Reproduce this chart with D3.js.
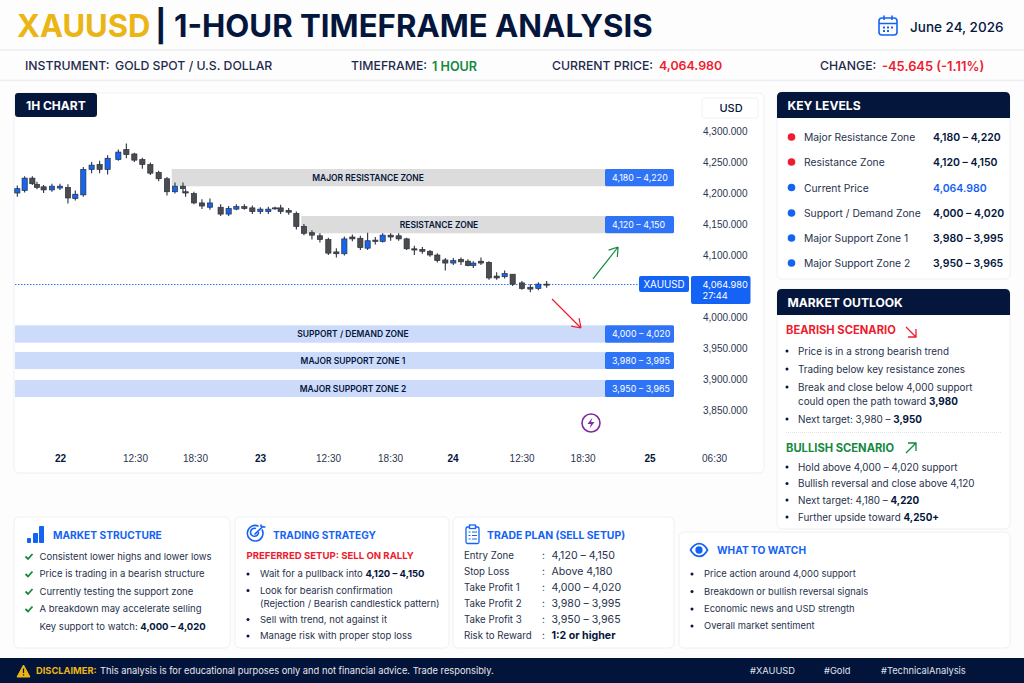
<!DOCTYPE html>
<html>
<head>
<meta charset="utf-8">
<title>XAUUSD 1-Hour Timeframe Analysis</title>
<script src="https://cdn.jsdelivr.net/npm/d3@7"></script>
<style>
  html, body { margin: 0; padding: 0; background: #fdfdfe; }
  svg { display: block; font-family: Inter, "Noto Sans", sans-serif; }
</style>
</head>
<body>
<svg id="page" width="1024" height="683"></svg>
<script>
// Candles: slot on the x axis and prices
const slots = [0,.92,1.88,2.46,3.29,4.33,5.33,6.33,7.25,8.25,9.29,10.29,11.29,12.63,13.63,14.63,15.63,16.63,17.67,18.71,19.71,20.71,21.04,22.08,23.08,24.08,25.42,26.42,27.38,28.38,29.38,30.38,31.38,32.21,32.92,33.92,34.88,35.83,36.83,37.83,38.88,39.88,40.88,41.88,42.88,43.79,44.75,45.67,46.67,47.67,48.67,49.63,50.63,51.58,52.5,53.5,54.5,55.46,56.33,57,57.96,58.96,59.92,60.92,61.92,63.08,64.13,65.13,66.17];
const opens = [4200,4204,4224,4214,4210,4205,4208,4209,4191,4197,4238,4246,4238,4254,4270,4263,4254,4246,4233,4223,4202,4211,4202,4199,4184,4177,4177,4166,4174,4178,4176,4170,4170,4175,4176,4172,4167,4146,4136,4131,4125,4105,4102,4129,4127,4111,4124,4122,4132,4131,4126,4110,4109,4106,4100,4092,4087,4093,4090,4083,4090,4088,4066,4065,4069,4055,4048,4046,4053];
const highs = [4212,4227,4227,4218,4213,4215,4215,4214,4204,4242,4250,4252,4261,4270,4280,4265,4257,4249,4236,4226,4217,4217,4206,4202,4190,4191,4182,4179,4182,4182,4180,4177,4178,4178,4181,4176,4170,4150,4140,4135,4128,4111,4130,4133,4131,4136,4129,4135,4135,4135,4128,4115,4113,4108,4103,4095,4095,4096,4093,4090,4096,4090,4072,4075,4069,4058,4053,4056,4058];
const lows = [4194,4201,4213,4206,4200,4202,4205,4183,4188,4194,4232,4232,4230,4252,4256,4250,4239,4229,4219,4196,4199,4200,4194,4182,4174,4173,4163,4163,4172,4173,4166,4166,4166,4173,4166,4165,4141,4132,4125,4120,4100,4096,4099,4122,4108,4108,4117,4120,4123,4123,4108,4100,4102,4097,4088,4075,4084,4084,4082,4079,4084,4060,4060,4062,4050,4044,4040,4043,4047];
const closes = [4207,4224,4215,4209,4205,4211,4211,4192,4198,4238,4245,4238,4256,4266,4262,4253,4246,4232,4223,4202,4211,4207,4200,4184,4179,4184,4166,4175,4178,4175,4170,4174,4174,4176,4170,4169,4146,4135,4132,4125,4103,4102,4126,4126,4112,4123,4122,4132,4129,4126,4110,4108,4106,4100,4091,4087,4091,4089,4083,4087,4087,4063,4063,4070,4053,4046,4045,4053,4052];

// Price axis
const priceTicks = [4300,4250,4200,4150,4100,4000,3950,3900,3850];

// Time axis
const timeSlots = [5.34,14.71,22.21,30.34,38.84,46.59,54.41,63.04,70.66,79.04,87.09];
const timeLabels = ["22","12:30","18:30","23","12:30","18:30","24","12:30","18:30","25","06:30"];

// Zones: where each band sits on the price scale, and the range it is labelled with
const zoneNames = ["MAJOR RESISTANCE ZONE","RESISTANCE ZONE","SUPPORT / DEMAND ZONE","MAJOR SUPPORT ZONE 1","MAJOR SUPPORT ZONE 2"];
const zoneRanges = ["4,180 – 4,220","4,120 – 4,150","4,000 – 4,020","3,980 – 3,995","3,950 – 3,965"];
const zoneHighs = [4238.7,4162.9,3986.6,3943.5,3898.4];
const zoneLows = [4210.8,4135,3958.5,3916,3871];
const zoneStarts = [19.3,35.5,-0.29,-0.29,-0.29];

// Price line as drawn, and the two scenario arrows
const priceLine = 4052.4;
const upArrowSlots = [71.96,75.1], upArrowPrices = [4061.3,4112.9];
const downArrowSlots = [66.84,70.46], downArrowPrices = [4029,3982.3];

// Side panels
const keyLabels = ["Major Resistance Zone","Resistance Zone","Current Price","Support / Demand Zone","Major Support Zone 1","Major Support Zone 2"];
const keyValues = ["4,180 – 4,220","4,120 – 4,150","4,064.980","4,000 – 4,020","3,980 – 3,995","3,950 – 3,965"];

const navy = "#04163c", ink = "#27324d", blue = "#1463f5", red = "#ee1c2e", green = "#14893f", gold = "#ebb515";

const svg = d3.select("#page");

// Text helper: parts wrapped in ** are bold, y is the middle of the line
function txt(x, y, str, o = {}) {
    const t = svg.append("text")
        .attr("x", x).attr("y", y).attr("dy", ".36em")
        .attr("font-size", o.size || 9.5)
        .attr("font-weight", o.weight || 400)
        .attr("fill", o.fill || ink)
        .attr("text-anchor", o.anchor || "start");
    str.split("**").forEach((part, i) => {
        t.append("tspan").attr("font-weight", i % 2 ? 700 : null).attr("fill", i % 2 ? navy : null).text(part);
    });
    return t;
}

function card(x, y, w, h) {
    svg.append("rect").attr("x", x).attr("y", y).attr("width", w).attr("height", h)
        .attr("rx", 5).attr("fill", "#fff").attr("stroke", "#eff0f3");
}

// Card with a dark header strip
function headCard(x, y, w, h, title) {
    card(x, y, w, h);
    svg.append("path").attr("fill", navy)
        .attr("d", `M${x},${y + 26}V${y + 5}q0,-5 5,-5H${x + w - 5}q5,0 5,5V${y + 26}Z`);
    txt(x + 10.5, y + 13.5, title, { size: 12.1, weight: 700, fill: "#fff" });
}

function bullets(x, rows, size, gap = 12) {
    rows.forEach(r => {
        if (r.dot !== false) svg.append("circle").attr("cx", x).attr("cy", r.y).attr("r", 1.5).attr("fill", navy);
        txt(x + gap, r.y, r.t, { size: size });
    });
}

// ---------- Header ----------
txt(17, 26, "XAUUSD", { size: 31, weight: 700, fill: gold });
txt(155, 26, "| 1-HOUR TIMEFRAME ANALYSIS", { size: 31.2, weight: 700, fill: navy });

const cal = svg.append("g").attr("fill", "none").attr("stroke", blue).attr("stroke-width", 1.6);
cal.append("rect").attr("x", 879).attr("y", 18).attr("width", 18).attr("height", 17).attr("rx", 3);
cal.append("path").attr("d", "M879,23.5H897M884,15.5V20M892,15.5V20");
cal.append("path").attr("d", "M883,27.5h2M887,27.5h2M891,27.5h2M883,31h2M887,31h2").attr("stroke-width", 1.8);
txt(910, 27, "June 24, 2026", { size: 13.5, weight: 500, fill: navy });

svg.append("path").attr("d", "M0,50H1024M0,80.5H1024").attr("stroke", "#eceef1").attr("stroke-width", 1.5);
const hdr = { size: 12.25, weight: 500, fill: "#1d2b4c" };
txt(25, 66, "INSTRUMENT:", hdr);
txt(115, 66, "GOLD SPOT / U.S. DOLLAR", hdr);
txt(351, 66, "TIMEFRAME:", hdr);
txt(432, 66, "1 HOUR", { size: 12.6, weight: 600, fill: green });
txt(552, 66, "CURRENT PRICE:", hdr);
txt(659, 66, "4,064.980", { size: 12.4, weight: 600, fill: red });
txt(820, 66, "CHANGE:", hdr);
txt(882, 66, "-45.645 (-1.11%)", { size: 12.9, weight: 600, fill: red });

// ---------- Chart card ----------
card(14, 93, 750, 380);
svg.append("rect").attr("x", 15).attr("y", 93).attr("width", 82).attr("height", 24).attr("rx", 3).attr("fill", navy);
txt(26, 105.5, "1H CHART", { size: 12, weight: 700, fill: "#fff" });
svg.append("rect").attr("x", 702).attr("y", 98).attr("width", 56).attr("height", 20).attr("rx", 2)
    .attr("fill", "#fff").attr("stroke", "#f1f2f4");
txt(731, 108, "USD", { size: 11, weight: 500, fill: navy, anchor: "middle" });

const x = d3.scaleLinear().domain([0, 88]).range([17.3, 721.3]);
const y = d3.scaleLinear().domain([3850, 4300]).range([410, 131]);

// Zones
const zoneIdx = d3.range(zoneNames.length);
const zoneEnd = x.invert(605), zoneTagEnd = x.invert(674);
const zoneTextX = [368, 439, 353, 353, 353];

svg.append("g").selectAll("rect").data(zoneIdx).enter().append("rect")
    .attr("x", i => x(zoneStarts[i]))
    .attr("y", i => y(zoneHighs[i]))
    .attr("width", i => x(zoneEnd) - x(zoneStarts[i]))
    .attr("height", i => y(zoneLows[i]) - y(zoneHighs[i]))
    .attr("fill", i => i < 2 ? "#dcdcdd" : "#cddbfb");

svg.append("g").selectAll("rect").data(zoneIdx).enter().append("rect")
    .attr("x", x(zoneEnd))
    .attr("y", i => y(zoneHighs[i]))
    .attr("width", x(zoneTagEnd) - x(zoneEnd))
    .attr("height", i => y(zoneLows[i]) - y(zoneHighs[i]))
    .attr("rx", 1.5)
    .attr("fill", "#2f74f7");

zoneIdx.forEach(i => {
    const mid = y((zoneHighs[i] + zoneLows[i]) / 2);
    txt(zoneTextX[i], mid, zoneNames[i], { size: 8.5, weight: 600, fill: navy, anchor: "middle" });
    txt(x(zoneEnd) + 7, mid, zoneRanges[i], { size: 8.9, weight: 400, fill: "#fff" });
});

// Current price line
svg.append("line")
    .attr("x1", x(-0.29)).attr("x2", 639)
    .attr("y1", y(priceLine)).attr("y2", y(priceLine))
    .attr("stroke", blue).attr("stroke-width", 0.9).attr("stroke-dasharray", "1.5,1.5");

// Candles
const candles = svg.append("g").selectAll("g").data(slots.map((s, i) => i)).enter().append("g");
candles.append("line")
    .attr("x1", i => x(slots[i])).attr("x2", i => x(slots[i]))
    .attr("y1", i => y(highs[i])).attr("y2", i => y(lows[i]))
    .attr("stroke", "#2a3040").attr("stroke-width", 1.1);
candles.append("rect")
    .attr("x", i => x(slots[i]) - 2.6)
    .attr("width", 5.2)
    .attr("y", i => y(Math.max(opens[i], closes[i])))
    .attr("height", i => Math.max(1, Math.abs(y(opens[i]) - y(closes[i]))))
    .attr("fill", i => closes[i] > opens[i] ? "#1565ee" : "#4c4c4e")
    .attr("stroke", "#2a3040").attr("stroke-width", 0.7);

// Arrows
function arrow(xs, ys, color) {
    const x1 = x(xs[0]), y1 = y(ys[0]), x2 = x(xs[1]), y2 = y(ys[1]);
    const a = Math.atan2(y2 - y1, x2 - x1), len = 10;
    const head = [a + 2.55, a - 2.55].map(t => `M${x2 + len * Math.cos(t)},${y2 + len * Math.sin(t)}L${x2},${y2}`).join("");
    svg.append("path").attr("d", `M${x1},${y1}L${x2},${y2}${head}`)
        .attr("fill", "none").attr("stroke", color).attr("stroke-width", 1.2);
}
arrow(upArrowSlots, upArrowPrices, green);
arrow(downArrowSlots, downArrowPrices, red);

// Price tag
svg.append("rect").attr("x", 639).attr("y", 276).attr("width", 50).attr("height", 16).attr("rx", 2).attr("fill", blue);
txt(664, 284.3, "XAUUSD", { size: 9.8, fill: "#fff", anchor: "middle" });
svg.append("rect").attr("x", 691).attr("y", 276).attr("width", 59.5).attr("height", 28).attr("rx", 2).attr("fill", blue);
txt(702.5, 284.3, "4,064.980", { size: 9.3, fill: "#fff" });
txt(702.5, 296, "27:44", { size: 9.3, fill: "#fff" });

// Axes
const yAxis = svg.append("g").attr("transform", "translate(703,0)")
    .call(d3.axisRight(y).tickValues(priceTicks).tickFormat(d3.format(",.3f")).tickSize(0).tickPadding(0));
yAxis.select(".domain").remove();
yAxis.selectAll("text").attr("font-family", null).attr("font-size", 10).attr("font-weight", 500).attr("fill", "#2b3550");

const xAxis = svg.append("g").attr("transform", "translate(0,455)")
    .call(d3.axisBottom(x).tickValues(timeSlots).tickFormat((d, i) => timeLabels[i]).tickSize(0).tickPadding(0));
xAxis.select(".domain").remove();
xAxis.selectAll("text").attr("font-family", null).attr("font-size", 10)
    .attr("font-weight", (d, i) => /:/.test(timeLabels[i]) ? 500 : 700)
    .attr("fill", (d, i) => /:/.test(timeLabels[i]) ? "#2b3550" : navy);

// Lightning badge
svg.append("circle").attr("cx", 591).attr("cy", 423).attr("r", 9).attr("fill", "#fff").attr("stroke", "#7d2c9f").attr("stroke-width", 1.6);
svg.append("path").attr("d", "M592.5,417.5L587.5,424H591L589.5,428.5L594.5,422H591Z").attr("fill", "#7d2c9f");

// ---------- Key levels ----------
headCard(777, 92, 233, 187, "KEY LEVELS");
keyLabels.forEach((label, i) => {
    const ry = [137.5, 162.5, 188, 213.5, 238.5, 263.5][i];
    svg.append("circle").attr("cx", 791.5).attr("cy", ry - .5).attr("r", 3.8).attr("fill", i < 2 ? red : blue);
    txt(804, ry, label, { size: 10.3 });
    txt(933, ry, keyValues[i], { size: 10.5, weight: 600, fill: i === 2 ? blue : navy });
});

// ---------- Market outlook ----------
headCard(777, 289, 233, 240, "MARKET OUTLOOK");
txt(786, 330, "BEARISH SCENARIO", { size: 11.2, weight: 700, fill: red });
svg.append("path").attr("d", "M906,327L916,337M916,329V337H908").attr("fill", "none").attr("stroke", red).attr("stroke-width", 1.3);
bullets(787, [
    { y: 351, t: "Price is in a strong bearish trend" },
    { y: 369, t: "Trading below key resistance zones" },
    { y: 387, t: "Break and close below 4,000 support" },
    { y: 401.5, t: "could open the path toward **3,980**", dot: false },
    { y: 419, t: "Next target: 3,980 – **3,950**" }
], 9.9, 11);
svg.append("line").attr("x1", 786).attr("x2", 1002).attr("y1", 432.5).attr("y2", 432.5)
    .attr("stroke", "#dfe1e6").attr("stroke-dasharray", "1,1");
txt(786, 448, "BULLISH SCENARIO", { size: 11.2, weight: 700, fill: green });
svg.append("path").attr("d", "M906,453L916,443M908,443H916V451").attr("fill", "none").attr("stroke", green).attr("stroke-width", 1.3);
bullets(787, [
    { y: 467, t: "Hold above 4,000 – 4,020 support" },
    { y: 483.5, t: "Bullish reversal and close above 4,120" },
    { y: 500, t: "Next target: 4,180 – **4,220**" },
    { y: 517, t: "Further upside toward **4,250+**" }
], 9.9, 11);

// ---------- Market structure ----------
card(14, 517, 216, 131);
[[27, 538, 4, 5], [33, 533, 5, 10], [39, 526, 5, 17]].forEach(b => {
    svg.append("rect").attr("x", b[0]).attr("y", b[1]).attr("width", b[2]).attr("height", b[3]).attr("rx", .8).attr("fill", blue);
});
txt(53, 535, "MARKET STRUCTURE", { size: 10.2, weight: 700, fill: blue });
const checks = ["Consistent lower highs and lower lows", "Price is trading in a bearish structure", "Currently testing the support zone", "A breakdown may accelerate selling"];
checks.forEach((c, i) => {
    const ry = [556.5, 574, 591.5, 609][i];
    svg.append("path").attr("d", `M25.5,${ry}l2.5,2.5l4.5,-5`).attr("fill", "none").attr("stroke", green).attr("stroke-width", 1.8);
    txt(39.5, ry, c);
});
txt(39.5, 626.5, "Key support to watch: **4,000 – 4,020**");

// ---------- Trading strategy ----------
card(235, 517, 214, 131);
const tg = svg.append("g").attr("fill", "none").attr("stroke", blue).attr("stroke-width", 1.6);
tg.append("path").attr("d", "M262,529.5a7.8,7.8 0 1 1 -3.5,-3.3");
tg.append("path").attr("d", "M258.5,532a4,4 0 1 1 -2.5,-3.4");
tg.append("path").attr("d", "M254.5,534.5L263.5,526M261,527V524.5M263,527H265.5");
txt(273, 535, "TRADING STRATEGY", { size: 10.1, weight: 700, fill: blue });
txt(246.5, 556, "PREFERRED SETUP: SELL ON RALLY", { size: 9.6, weight: 700, fill: red });
bullets(248, [
    { y: 574, t: "Wait for a pullback into **4,120 – 4,150**" },
    { y: 590.5, t: "Look for bearish confirmation" },
    { y: 603.5, t: "(Rejection / Bearish candlestick pattern)", dot: false },
    { y: 619.5, t: "Sell with trend, not against it" },
    { y: 636, t: "Manage risk with proper stop loss" }
], 9.5);

// ---------- Trade plan ----------
card(453, 517, 221, 131);
const cb = svg.append("g").attr("fill", "none").attr("stroke", blue).attr("stroke-width", 1.3);
cb.append("rect").attr("x", 466).attr("y", 527).attr("width", 13).attr("height", 16.5).attr("rx", 1.5);
cb.append("rect").attr("x", 469.5).attr("y", 525).attr("width", 6).attr("height", 3.5).attr("fill", "#fff");
cb.append("path").attr("d", "M468.5,532h2M472,532h5M468.5,535.5h2M472,535.5h5M468.5,539h2M472,539h5").attr("stroke-width", 1);
txt(487, 535, "TRADE PLAN (SELL SETUP)", { size: 10.4, weight: 700, fill: blue });
const planLabels = ["Entry Zone", "Stop Loss", "Take Profit 1", "Take Profit 2", "Take Profit 3", "Risk to Reward"];
const planValues = ["4,120 – 4,150", "Above 4,180", "4,000 – 4,020", "3,980 – 3,995", "3,950 – 3,965", "**1:2 or higher**"];
planLabels.forEach((label, i) => {
    const ry = 555.5 + i * 16;
    txt(464, ry, label, { size: 9.7 });
    txt(542, ry, ":", { size: 10 });
    txt(551.5, ry, planValues[i], { size: 10.6 });
});

// ---------- What to watch ----------
card(679, 532, 331, 116);
const eye = svg.append("g").attr("fill", "none").attr("stroke", blue).attr("stroke-width", 1.7);
eye.append("path").attr("d", "M690.5,550c5,-8.5 12.5,-8.5 17,0c-4.5,8.5 -12,8.5 -17,0Z");
eye.append("circle").attr("cx", 699).attr("cy", 550).attr("r", 2.8).attr("fill", blue);
txt(717, 550, "WHAT TO WATCH", { size: 10.2, weight: 700, fill: blue });
bullets(692, [
    { y: 574, t: "Price action around 4,000 support" },
    { y: 591.5, t: "Breakdown or bullish reversal signals" },
    { y: 609, t: "Economic news and USD strength" },
    { y: 626, t: "Overall market sentiment" }
], 9.4);

// ---------- Footer ----------
svg.append("rect").attr("x", 0).attr("y", 658).attr("width", 1024).attr("height", 25).attr("fill", "#03143a");
svg.append("path").attr("d", "M23.5,665L30,677H17Z").attr("fill", gold).attr("stroke", gold).attr("stroke-linejoin", "round");
svg.append("path").attr("d", "M23.5,668.5V673M23.5,674.3V675.6").attr("stroke", "#03143a").attr("stroke-width", 1.3);
txt(36, 671, "DISCLAIMER:", { size: 9.3, weight: 700, fill: gold });
txt(100, 671, "This analysis is for educational purposes only and not financial advice. Trade responsibly.", { size: 9.3, fill: "#e4e7ee" });
txt(750, 671, "#XAUUSD", { size: 9.3, fill: "#dfe3ec" });
txt(824, 671, "#Gold", { size: 9.3, fill: "#dfe3ec" });
txt(881, 671, "#TechnicalAnalysis", { size: 9.3, fill: "#dfe3ec" });
</script>
</body>
</html>
